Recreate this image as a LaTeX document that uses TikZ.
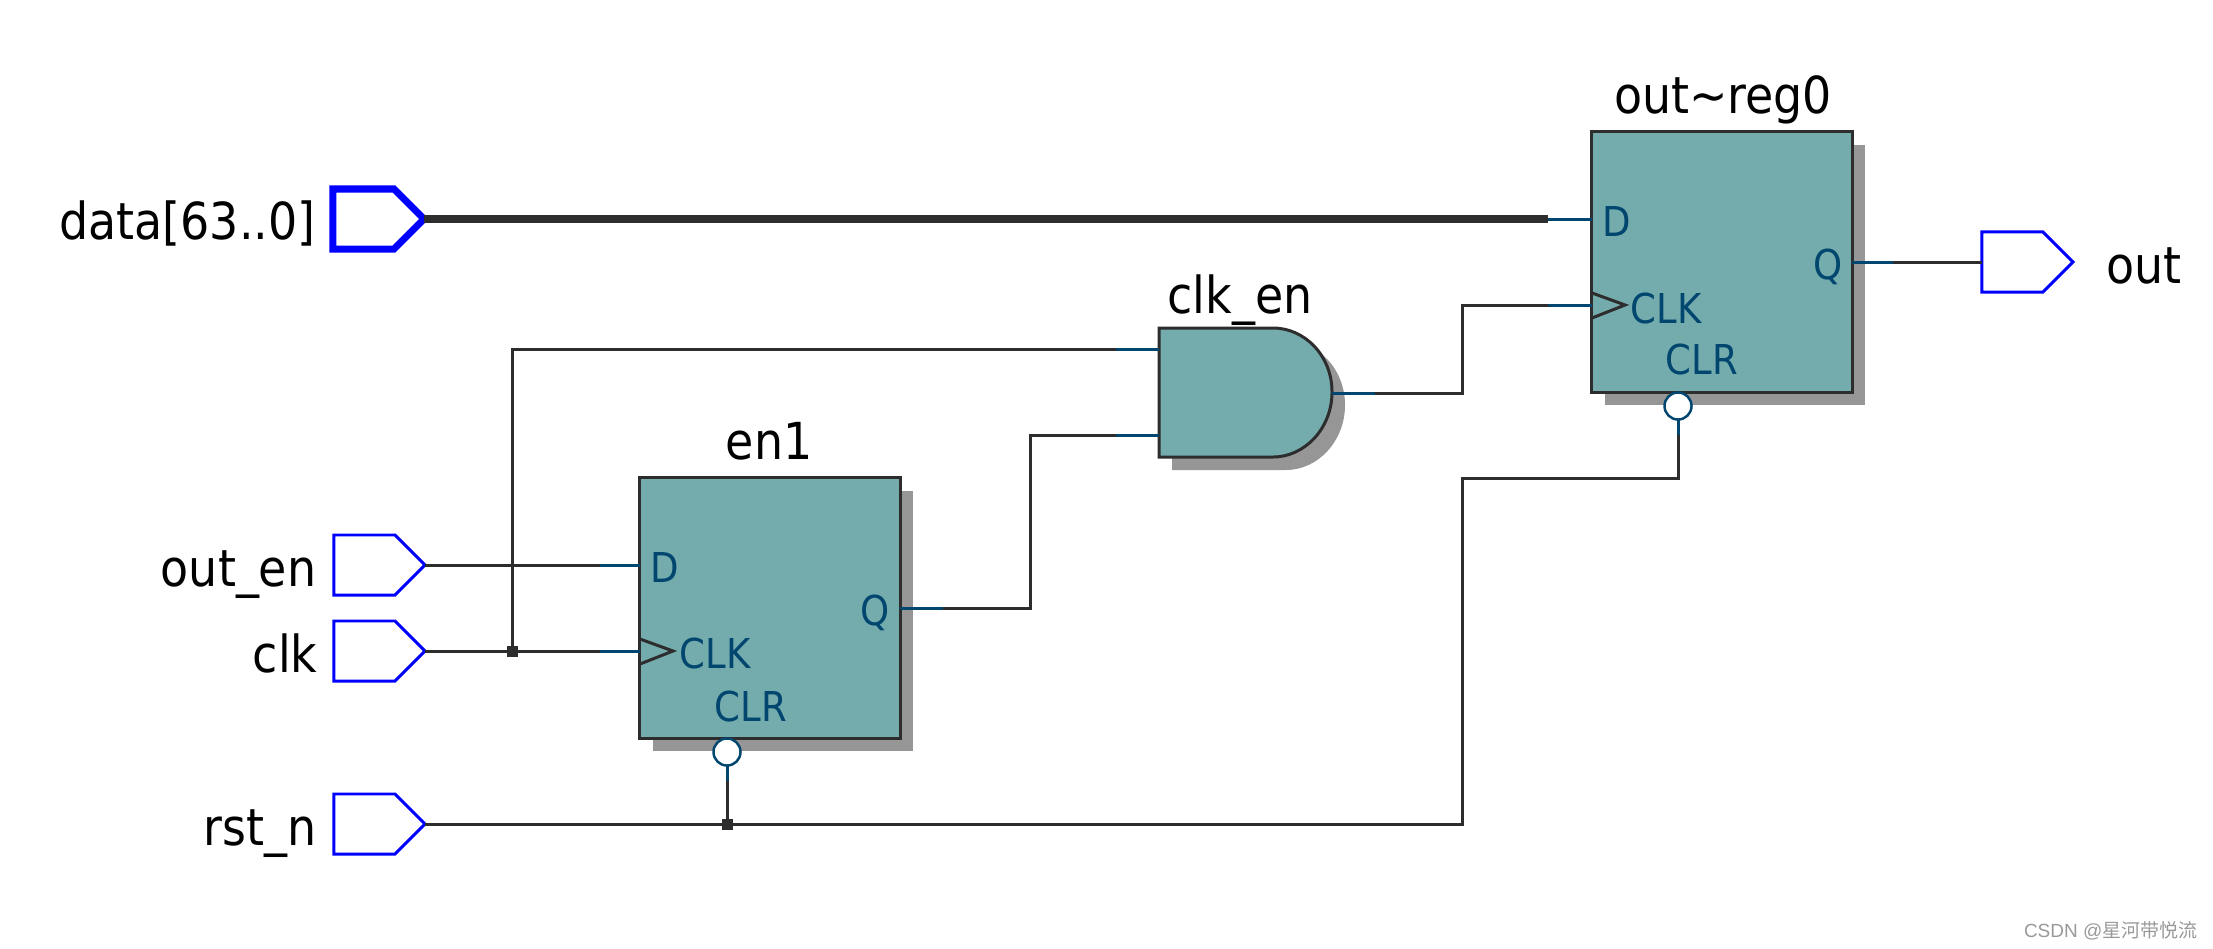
\documentclass[tikz,border=0pt]{standalone}
\usepackage{fontspec}
\setmainfont{DejaVu Sans Condensed}
\newfontfamily\cjkfont{Noto Sans CJK SC}
\usetikzlibrary{shapes.symbols,shadows}
\definecolor{regfill}{HTML}{74ABAD}
\definecolor{shadegrey}{HTML}{969696}
\definecolor{wirecol}{HTML}{2D2D2D}
\definecolor{pincol}{HTML}{00466E}
\definecolor{portcol}{HTML}{0000FF}
\tikzset{
	wire/.style={color=wirecol, line width=0.85pt},
	stub/.style={color=pincol, line width=0.85pt},
	busline/.style={color=wirecol, line width=2pt},
	regbox/.style={draw=wirecol, fill=regfill, line width=0.85pt, minimum width=2.6cm, minimum height=2.6cm, inner sep=0, outer sep=0, general shadow={fill=shadegrey, shadow xshift=0.13cm, shadow yshift=-0.13cm}},
	portbox/.style={signal, signal to=east, signal pointer angle=90, draw=portcol, fill=white, line width=0.85pt, minimum width=0.91cm, minimum height=0.6cm, inner sep=0, outer sep=0, anchor=east},
	busport/.style={portbox, line width=2pt},
	invpin/.style={circle, draw=pincol, fill=white, line width=0.7pt, minimum size=0.27cm, inner sep=0, outer sep=0},
	junction/.style={rectangle, fill=wirecol, minimum size=0.11cm, inner sep=0, outer sep=0},
	bigtext/.style={font=\fontsize{14.5pt}{17pt}\selectfont, color=black, inner sep=0},
	pintext/.style={font=\fontsize{11.7pt}{14pt}\selectfont, color=pincol, inner sep=0},
}
\begin{document}
\begin{tikzpicture}[x=0.01cm, y=-0.01cm]
	\useasboundingbox (0,0) rectangle (2213,948);
	% registers and gate
	\node [regbox] (en1) at (770,608) {};
	\node [regbox] (reg0) at (1722,262) {};
	\fill [shadegrey] (1172,341)--(1286,341) .. controls (1318,341) and (1345,369) .. (1345,405) .. controls (1345,441) and (1318,470) .. (1286,470)--(1172,470)--cycle;
	\draw [wirecol, fill=regfill, line width=0.85pt] (1159,328)--(1273,328) .. controls (1305,328) and (1332,356) .. (1332,392) .. controls (1332,428) and (1305,457) .. (1273,457)--(1159,457)--cycle;
	\coordinate (gateA) at (1159,349);
	\coordinate (gateB) at (1159,435);
	\coordinate (gateY) at (1332,393);
	% ports
	\node [busport] (data) at (424,219) {};
	\node [portbox] (outen) at (425,565) {};
	\node [portbox] (clk) at (425,651) {};
	\node [portbox] (rstn) at (425,824) {};
	\node [portbox] (out) at (2073,262) {};
	% port labels
	\node [bigtext, anchor=base east] (datalabel) at (316,239) {data[63..0]};
	\node [bigtext, anchor=base east] (outenlabel) at (317,586) {out\_en};
	\node [bigtext, anchor=base east] (clklabel) at (318,672) {clk};
	\node [bigtext, anchor=base east] (rstnlabel) at (317,845) {rst\_n};
	\node [bigtext, anchor=base west] (outlabel) at (2106,283) {out};
	\node [bigtext, anchor=base] (en1label) at (769,459) {en1};
	\node [bigtext, anchor=base] (gatelabel) at (1240,313) {clk\_en};
	\node [bigtext, anchor=base] (reg0label) at (1723,113) {out\textasciitilde reg0};
	% pins of en1
	\coordinate (en1D) at (640,565);
	\coordinate (en1CK) at (640,651);
	\coordinate (en1Q) at (900,608);
	\coordinate (en1Dstub) at (600,565);
	\coordinate (en1CKstub) at (600,651);
	\coordinate (en1Qstub) at (943,608);
	\node [invpin] (en1CLR) at (727,752) {};
	\coordinate (en1CLRstub) at (727,781);
	\draw [wire] (en1CK |- 0,639)--(673,651)--(en1CK |- 0,664);
	\node [pintext, anchor=base west] (en1Dtext) at (650,582) {D};
	\node [pintext, anchor=base west] (en1CKtext) at (679,668) {CLK};
	\node [pintext, anchor=base west] (en1CLRtext) at (714,721) {CLR};
	\node [pintext, anchor=base east] (en1Qtext) at (890,625) {Q};
	% pins of out~reg0
	\coordinate (regD) at (1592,219);
	\coordinate (regCK) at (1592,305);
	\coordinate (regQ) at (1852,262);
	\coordinate (regDstub) at (1548,219);
	\coordinate (regCKstub) at (1548,305);
	\coordinate (regQstub) at (1893,262);
	\node [invpin] (regCLR) at (1678,406) {};
	\coordinate (regCLRstub) at (1678,435);
	\draw [wire] (regCK |- 0,293)--(1625,305)--(regCK |- 0,318);
	\node [pintext, anchor=base west] (regDtext) at (1602,236) {D};
	\node [pintext, anchor=base west] (regCKtext) at (1630,323) {CLK};
	\node [pintext, anchor=base west] (regCLRtext) at (1665,374) {CLR};
	\node [pintext, anchor=base east] (regQtext) at (1843,279) {Q};
	% stubs of the gate
	\coordinate (gateAstub) at (1116,349);
	\coordinate (gateBstub) at (1116,435);
	\coordinate (gateYstub) at (1375,393);
	% wires
	\draw [busline] (data.east)--(regDstub);
	\draw [wire] (outen.east)--(en1Dstub);
	\draw [wire] (clk.east)--(en1CKstub);
	\draw [wire] (rstn.east)--(1462,824)--(1462,478)--(1678,478)--(regCLRstub);
	\node [junction] (clktap) at (512,651) {};
	\node [junction] (rsttap) at (727,824) {};
	\draw [wire] (clktap)--(512,349)--(gateAstub);
	\draw [wire] (rsttap)--(en1CLRstub);
	\draw [wire] (en1Qstub)--(1030,608)--(1030,435)--(gateBstub);
	\draw [wire] (gateYstub)--(1462,393)--(1462,305)--(regCKstub);
	\draw [wire] (regQstub)--(out.west);
	\draw [stub] (en1Dstub)--(en1D);
	\draw [stub] (en1CKstub)--(en1CK);
	\draw [stub] (en1Q)--(en1Qstub);
	\draw [stub] (en1CLR)--(en1CLRstub);
	\draw [stub] (gateAstub)--(gateA);
	\draw [stub] (gateBstub)--(gateB);
	\draw [stub] (gateY)--(gateYstub);
	\draw [stub] (regDstub)--(regD);
	\draw [stub] (regCKstub)--(regCK);
	\draw [stub] (regQ)--(regQstub);
	\draw [stub] (regCLR)--(regCLRstub);
	% watermark
	\node [anchor=base east, color=gray!80, inner sep=0, font=\fontsize{5.4pt}{7pt}\selectfont] (mark) at (2198,937) {\fontspec{Liberation Sans}CSDN @\cjkfont 星河带悦流};
\end{tikzpicture}
\end{document}
